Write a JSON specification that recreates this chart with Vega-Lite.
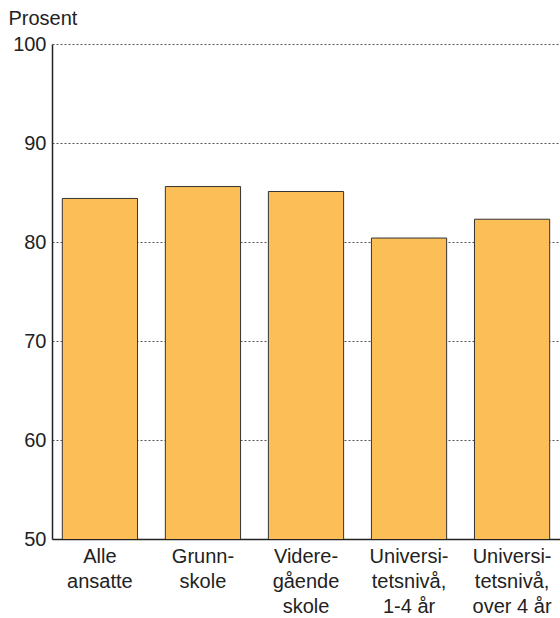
{
  "$schema": "https://vega.github.io/schema/vega-lite/v6.json",
  "autosize": "none",
  "width": 508,
  "height": 495,
  "padding": {"left": 52, "top": 44, "right": 0, "bottom": 79},
  "background": "white",
  "config": {
    "view": {"stroke": null},
    "font": "Liberation Sans"
  },
  "data": {
    "values": [
      {"kategori": "Alle|ansatte", "verdi": 84.4},
      {"kategori": "Grunn-|skole", "verdi": 85.6},
      {"kategori": "Videre-|gående|skole", "verdi": 85.1},
      {"kategori": "Universi-|tetsnivå,|1-4 år", "verdi": 80.4},
      {"kategori": "Universi-|tetsnivå,|over 4 år", "verdi": 82.3}
    ]
  },
  "mark": {"type": "bar", "fill": "#FCBF58", "stroke": "#333333", "strokeWidth": 1, "clip": true},
  "encoding": {
    "x": {
      "field": "kategori",
      "type": "nominal",
      "sort": null,
      "scale": {"paddingInner": 0.27, "paddingOuter": 0.1},
      "axis": {
        "title": null,
        "labelAngle": 0,
        "labelExpr": "split(datum.label, '|')",
        "labelFontSize": 20,
        "labelColor": "#222222",
        "labelLineHeight": 25,
        "labelPadding": 7,
        "labelBaseline": "top",
        "ticks": false,
        "domainColor": "#222222",
        "domainWidth": 1.5,
        "grid": false
      }
    },
    "y": {
      "field": "verdi",
      "type": "quantitative",
      "scale": {"domain": [50, 100], "zero": false, "nice": false},
      "axis": {
        "values": [50, 60, 70, 80, 90, 100],
        "title": "Prosent",
        "titleAngle": 0,
        "titleAlign": "left",
        "titleBaseline": "alphabetic",
        "titleX": -44,
        "titleY": -20,
        "titleFontSize": 20,
        "titleFontWeight": "normal",
        "titleColor": "#222222",
        "labelFontSize": 20,
        "labelColor": "#222222",
        "labelPadding": 6,
        "ticks": false,
        "domainColor": "#222222",
        "domainWidth": 1.5,
        "grid": true,
        "gridColor": "#555555",
        "gridDash": [2, 2],
        "gridWidth": 1,
        "gridOpacity": 1
      }
    }
  }
}
